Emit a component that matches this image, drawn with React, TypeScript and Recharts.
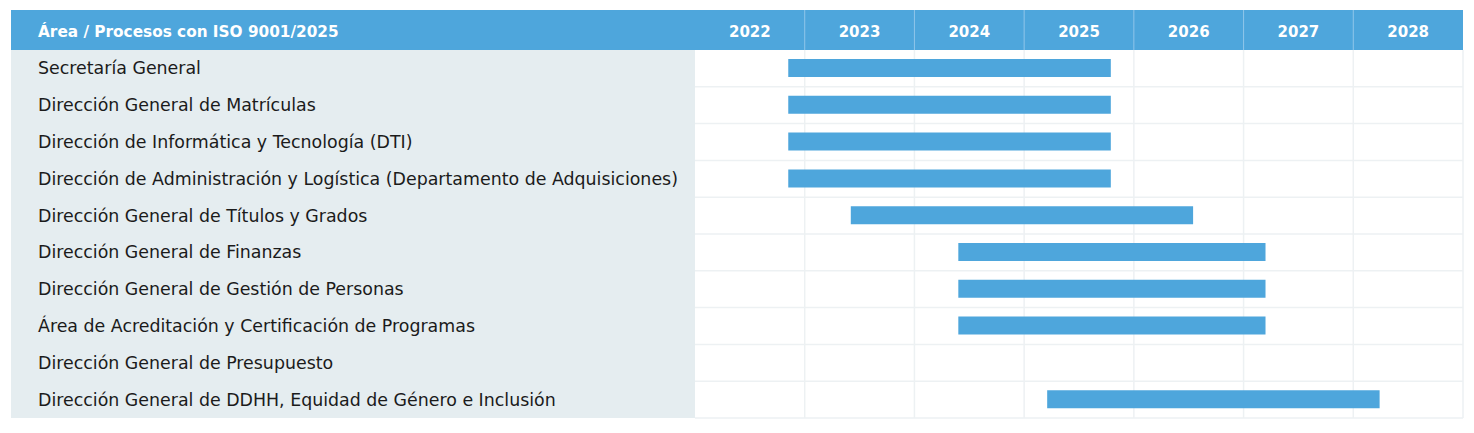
import { BarChart, Bar, XAxis, YAxis, CartesianGrid } from "recharts";

const areas = [
  "Secretaría General",
  "Dirección General de Matrículas",
  "Dirección de Informática y Tecnología (DTI)",
  "Dirección de Administración y Logística (Departamento de Adquisiciones)",
  "Dirección General de Títulos y Grados",
  "Dirección General de Finanzas",
  "Dirección General de Gestión de Personas",
  "Área de Acreditación y Certificación de Programas",
  "Dirección General de Presupuesto",
  "Dirección General de DDHH, Equidad de Género e Inclusión",
];

// approximate start / end of each certification period (fractional years)
const starts = [2022.85, 2022.85, 2022.85, 2022.85, 2023.42, 2024.4, 2024.4, 2024.4, null, 2025.21];
const ends = [2025.79, 2025.79, 2025.79, 2025.79, 2026.54, 2027.2, 2027.2, 2027.2, null, 2028.24];

const years = [2022, 2023, 2024, 2025, 2026, 2027, 2028];
const headerTitle = "Área / Procesos con ISO 9001/2025";

const BLUE = "#4ea6dc";
const FONT = "'DejaVu Sans', sans-serif";

const W = 1474;
const H = 433;
const M = { top: 10, right: 11, bottom: 15, left: 11 };
const LABEL_W = 684;
const COL_W = (W - M.left - M.right - LABEL_W) / years.length;

const rows = areas.map((name, i) => ({
  name,
  span: starts[i] != null && ends[i] != null ? [starts[i], ends[i]] : null,
}));

const YearTick = (props: any) => {
  const { x, payload, index } = props;
  return (
    <g>
      {index > 0 && (
        <line x1={x - COL_W / 2} x2={x - COL_W / 2} y1={M.top} y2={M.top + 40} stroke="#8fc6ea" strokeWidth={1} />
      )}
      <text x={x} y={M.top + 27} textAnchor="middle" fill="#fff" fontFamily={FONT} fontWeight={700} fontSize={15}>
        {Math.floor(payload.value)}
      </text>
    </g>
  );
};

const AreaTick = (props: any) => {
  const { y, payload } = props;
  return (
    <text x={38} y={y + 6} fill="#1b1b1b" fontFamily={FONT} fontSize={17.4}>
      {payload.value}
    </text>
  );
};

export default function App() {
  return (
    <div style={{ position: "absolute", left: 0, top: 0, width: W, height: H, background: "#fff" }}>
      <div style={{ position: "absolute", left: M.left, top: M.top, width: W - M.left - M.right, height: 40, background: BLUE }} />
      <div style={{ position: "absolute", left: M.left, top: M.top + 40, width: LABEL_W, height: H - M.top - 40 - M.bottom, background: "#e5edf0" }} />
      <svg style={{ position: "absolute", left: 0, top: 0 }} width={W} height={60}>
        <text x={38} y={M.top + 27} fill="#fff" fontFamily={FONT} fontWeight={700} fontSize={15.3}>
          {headerTitle}
        </text>
      </svg>
      <div style={{ position: "absolute", left: 0, top: 0 }}>
        <BarChart width={W} height={H} data={rows} layout="vertical" margin={M} barCategoryGap={0}>
          <CartesianGrid
            stroke="#edf1f3"
            strokeWidth={1.5}
            horizontalCoordinatesGenerator={({ offset }: any) =>
              areas.map((_, i) => offset.top + ((i + 1) * offset.height) / areas.length)
            }
            verticalCoordinatesGenerator={({ offset }: any) =>
              years.map((_, i) => offset.left + ((i + 1) * offset.width) / years.length)
            }
          />
          <XAxis
            type="number"
            orientation="top"
            domain={[2022, 2029]}
            ticks={years.map((y) => y + 0.5)}
            height={40}
            axisLine={false}
            tickLine={false}
            tick={<YearTick />}
            interval={0}
          />
          <YAxis
            type="category"
            dataKey="name"
            width={LABEL_W}
            axisLine={false}
            tickLine={false}
            tick={<AreaTick />}
            interval={0}
          />
          <Bar dataKey="span" fill={BLUE} barSize={18} isAnimationActive={false} />
        </BarChart>
      </div>
    </div>
  );
}
